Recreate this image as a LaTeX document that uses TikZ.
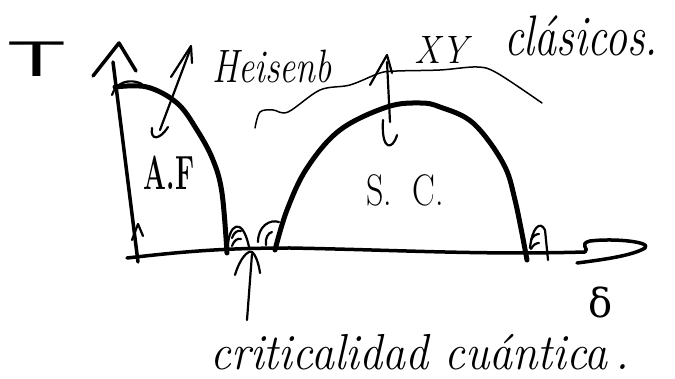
\documentclass[tikz,border=0pt]{standalone}
\usepackage{fontspec}
\newfontfamily\greekserif{DejaVu Serif}
\begin{document}
\begin{tikzpicture}[x=1pt,y=-1pt,
  thinline/.style={line width=2.2pt, line cap=round, line join=round},
  axisline/.style={line width=3.5pt, line cap=round, line join=round},
  domeline/.style={line width=5pt, line cap=round, line join=round},
  hand/.style={inner sep=0pt, anchor=center, text=black},
]
\useasboundingbox[fill=white] (0,0) rectangle (675,379);

% ---- axes ----
\coordinate (ybase) at (138,262);
\coordinate (ytop) at (113,62);
\coordinate (ytip) at (119,43);
\draw[axisline] (ybase) -- (ytop);
\draw[axisline] (93,76) -- (ytip) -- (136,71);
\draw[thinline] (132,240) -- (138,224) -- (143,236);

\coordinate (xbase) at (127,258);
\coordinate (xend) at (585,252);
\draw[axisline] (xbase) .. controls (180,252) and (220,248) .. (290,248)
   .. controls (400,250) and (480,255) .. (xend);
\draw[axisline] (xend) .. controls (590,249) and (578,244) .. (590,241)
   .. controls (615,238) and (652,242) .. (645,248)
   .. controls (632,256) and (600,260) .. (577,263);

% ---- domes ----
\draw[domeline] plot[smooth, tension=0.6] coordinates
  {(115,87) (147,87) (177,103) (197,130) (213,160) (222,193) (227,253)};
\draw[thinline] (112,95) .. controls (116,82) and (130,78) .. (142,84);
\draw[domeline] plot[smooth, tension=0.6] coordinates
  {(275,250) (287,210) (307,168) (340,130) (387,107) (420,103) (440,107) (473,123) (503,163) (515,200) (527,260)};

% ---- small hatch marks at the feet ----
\draw[thinline] (228,247) .. controls (228,226) and (242,214) .. (249,247);
\draw[thinline] (232,238) .. controls (234,232) and (238,230) .. (241,231);
\draw[thinline] (232,246) .. controls (234,240) and (238,238) .. (241,239);
\draw[thinline] (258,242) .. controls (258,226) and (270,219) .. (279,222);
\draw[thinline] (266,245) .. controls (265,238) and (268,233) .. (272,232);
\draw[thinline] (530,248) .. controls (532,228) and (540,220) .. (545,230) -- (548,260);
\draw[thinline] (531,240) .. controls (533,236) and (536,234) .. (539,234);
\draw[thinline] (531,249) .. controls (533,245) and (536,243) .. (539,243);

% ---- labels ----
\node[hand, font=\fontsize{50}{50}\selectfont\sffamily] (T) at (37,59) {\scalebox{1.9}[1]{T}};
\node[hand, font=\fontsize{36}{36}\selectfont\itshape] (heis) at (272,66) {\scalebox{1}[1.3]{Heisenb}};
\node[hand, font=\fontsize{36}{36}\selectfont\itshape] (xy) at (441,50) {\scalebox{1}[1.1]{XY}};
\node[hand, font=\fontsize{44}{44}\selectfont\itshape] (clas) at (581,36) {\scalebox{1}[1.3]{clásicos.}};
\node[hand, font=\fontsize{30}{30}\selectfont\bfseries] (af) at (169,173) {\scalebox{0.9}[1.6]{A.F}};
\node[hand, font=\fontsize{34}{34}\selectfont] (sc) at (405,190) {\scalebox{1}[1.3]{S.\ \ C.}};
\node[hand, font=\fontsize{40}{40}\selectfont\greekserif] (delta) at (601,302) {δ};
\node[hand, font=\fontsize{46}{46}\selectfont\itshape] (crit) at (420,352) {\scalebox{1}[1.1]{criticalidad cuántica\hspace{8pt}.}};

% ---- pointer arrows ----
\coordinate (hlow) at (160,130);
\coordinate (hhigh) at (190,50);
\draw[thinline] (hlow) -- (hhigh);
\draw[thinline] (171,77) -- (191,46) -- (192,63);
\draw[thinline] (168,127) .. controls (160,140) and (150,141) .. (152,128);

\coordinate (xylow) at (390,122);
\coordinate (xyhigh) at (387,62);
\draw[thinline] (xylow) -- (xyhigh);
\draw[thinline] (370,85) -- (387,55) -- (392,73);
\draw[thinline] (383,120) .. controls (381,152) and (393,150) .. (397,135);

\draw[line width=1.5pt, line cap=round] plot[smooth, tension=0.55] coordinates
  {(255,128) (260,112) (273,110) (288,112) (320,90) (350,85) (380,73) (397,71) (440,70) (477,67) (497,73) (542,103)};

\coordinate (clow) at (247,320);
\coordinate (chigh) at (252,254);
\draw[thinline] (clow) -- (chigh);
\draw[thinline] (235,275) .. controls (240,258) and (248,250) .. (252,252)
   .. controls (256,255) and (259,265) .. (260,273);
\end{tikzpicture}
\end{document}
